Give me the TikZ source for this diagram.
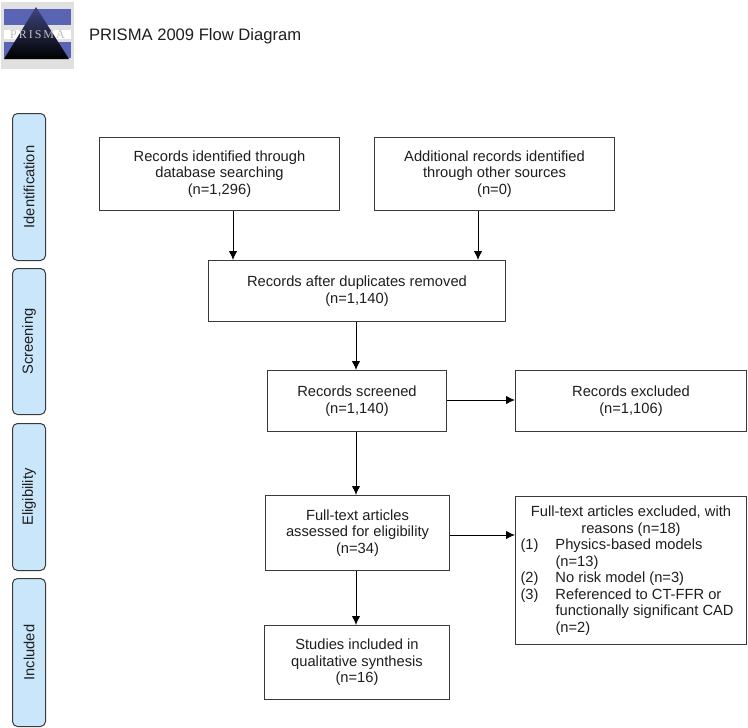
\documentclass[tikz,border=0pt]{standalone}
\usepackage{fontspec}
\setmainfont{Liberation Sans}
\newfontfamily\logofont{Liberation Serif}
\usetikzlibrary{arrows.meta,calc}
\definecolor{sideblue}{HTML}{CAE6FB}
\definecolor{linegray}{HTML}{3A3A3A}
\definecolor{txt}{HTML}{1E1E1E}
\definecolor{logoblue}{HTML}{5A64B4}
\tikzset{
  x=1pt,y=-1pt,
  every node/.style={text=txt,font=\fontsize{14.7}{16.5}\selectfont},
  box/.style={draw=linegray,line width=1pt,fill=white,align=center,inner sep=0pt,anchor=north west},
  side/.style={draw=linegray,line width=1pt,fill=sideblue,rounded corners=5pt,anchor=north west,minimum width=33pt},
  sidelabel/.style={rotate=90,font=\fontsize{14.7}{16}\selectfont},
  arr/.style={draw=black,line width=1pt,-{Latex[length=9pt,width=8.5pt]}}
}
\begin{document}
\begin{tikzpicture}
\useasboundingbox (0,0) rectangle (748,728);
% logo
\fill[black!12] (1,2) rectangle (74,69);
\fill[logoblue] (4,9) rectangle (71,25);
\fill[white] (4,30) rectangle (71,39);
\fill[logoblue] (4,42) rectangle (71,58);
\shade[top color=logoblue!70!black,bottom color=black,shading angle=0] (36,7) -- (69,59) -- (4,59) -- cycle;
\node[text=black!25,font=\logofont\fontsize{12}{12}\selectfont] (logotext) at (37.5,34.5) {P\,R\,I\,S\,M\,A};
\node[anchor=west,font=\fontsize{16.6}{18}\selectfont] (title) at (85.5,36.5) {PRISMA 2009 Flow Diagram};
% side bars
\node[side,minimum height=147pt] (s1) at (12,113) {};
\node[sidelabel] at (s1.center) {Identification};
\node[side,minimum height=146pt] (s2) at (12,268) {};
\node[sidelabel] at (s2.center) {Screening};
\node[side,minimum height=147pt] (s3) at (12,423) {};
\node[sidelabel] at (s3.center) {Eligibility};
\node[side,minimum height=148pt] (s4) at (12,578) {};
\node[sidelabel] at (s4.center) {Included};
% boxes
\node[box,minimum width=240pt,minimum height=73pt] (a) at (99,137) {Records identified through\\database searching\\(n=1,296)};
\node[box,minimum width=240pt,minimum height=73pt] (b) at (374,137) {Additional records identified\\through other sources\\(n=0)};
\node[box,minimum width=297pt,minimum height=61pt] (c) at (208,260) {Records after duplicates removed\\(n=1,140)};
\node[box,minimum width=179pt,minimum height=61pt] (d) at (267,370) {Records screened\\(n=1,140)};
\node[box,minimum width=231pt,minimum height=61pt] (e) at (515,370) {Records excluded\\(n=1,106)};
\node[box,minimum width=184pt,minimum height=75pt] (f) at (265,495) {Full-text articles\\assessed for eligibility\\(n=34)};
\node[box,minimum width=231pt,minimum height=148pt] (g) at (515,496) {%
  \begin{minipage}{221pt}\fontsize{14.7}{16.5}\selectfont
  \centering Full-text articles excluded, with\\reasons (n=18)\\
  \raggedright
  \makebox[35pt][l]{(1)}Physics-based models\\
  \makebox[35pt][l]{}(n=13)\\
  \makebox[35pt][l]{(2)}No risk model (n=3)\\
  \makebox[35pt][l]{(3)}Referenced to CT-FFR or\\
  \makebox[35pt][l]{}functionally significant CAD\\
  \makebox[35pt][l]{}(n=2)
  \end{minipage}};
\node[box,minimum width=185pt,minimum height=74pt] (h) at (264,625) {Studies included in\\qualitative synthesis\\(n=16)};
% connectors
\coordinate (xa) at (233,0);
\coordinate (xb) at (478,0);
\coordinate (xc) at (356,0);
\coordinate (yd) at (0,400);
\coordinate (yf) at (0,535);
\draw[arr] (a.south -| xa) -- (c.north -| xa);
\draw[arr] (b.south -| xb) -- (c.north -| xb);
\draw[arr] (c.south -| xc) -- (d.north -| xc);
\draw[arr] (d.east |- yd) -- (e.west |- yd);
\draw[arr] (d.south -| xc) -- (f.north -| xc);
\draw[arr] (f.east |- yf) -- (g.west |- yf);
\draw[arr] (f.south -| xc) -- (h.north -| xc);
\end{tikzpicture}
\end{document}
